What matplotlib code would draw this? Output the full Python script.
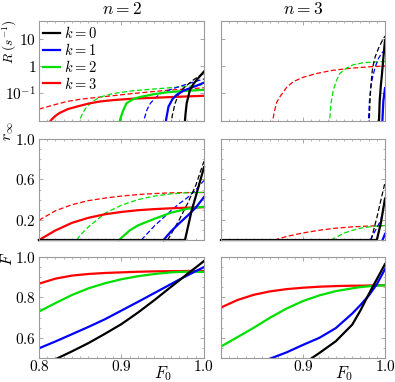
import numpy as np
import matplotlib
matplotlib.use("Agg")
import matplotlib.pyplot as plt
from matplotlib.ticker import MultipleLocator, NullFormatter, LogLocator

plt.rcParams['mathtext.fontset'] = 'cm'
plt.rcParams['font.family'] = ['DejaVu Serif']

# ---------------- fila 1: R (s^-1), n = 2 ----------------
R2_k0_x = [0.9765, 0.9775, 0.979, 0.983, 0.987, 0.991, 0.996, 1.0]
R2_k0 = [0.006, 0.015, 0.041, 0.13, 0.21, 0.30, 0.45, 0.62]
R2_k0d_x = [0.960, 0.9615, 0.965, 0.969, 0.973, 0.98, 0.987, 0.994, 1.0]
R2_k0d = [0.006, 0.014, 0.041, 0.085, 0.13, 0.20, 0.30, 0.42, 0.53]
R2_k1_x = [0.953, 0.9545, 0.957, 0.962, 0.967, 0.975, 0.983, 0.992, 1.0]
R2_k1 = [0.006, 0.012, 0.031, 0.06, 0.085, 0.12, 0.15, 0.19, 0.24]
R2_k1d_x = [0.926, 0.928, 0.931, 0.935, 0.941, 0.947, 0.957, 0.967, 0.985, 1.0]
R2_k1d = [0.006, 0.012, 0.024, 0.041, 0.065, 0.092, 0.125, 0.16, 0.24, 0.33]
R2_k2_x = [0.897, 0.899, 0.902, 0.906, 0.914, 0.922, 0.94, 0.955, 0.98, 1.0]
R2_k2 = [0.007, 0.012, 0.022, 0.041, 0.058, 0.07, 0.09, 0.105, 0.12, 0.13]
R2_k2d_x = [0.848, 0.85, 0.853, 0.858, 0.865, 0.874, 0.89, 0.914, 0.94, 0.955, 0.98, 1.0]
R2_k2d = [0.006, 0.011, 0.018, 0.031, 0.048, 0.07, 0.095, 0.12, 0.14, 0.152, 0.175, 0.2]
R2_k3_x = [0.811, 0.815, 0.82, 0.825, 0.835, 0.846, 0.86, 0.874, 0.89, 0.914, 0.94, 0.955, 0.98, 1.0]
R2_k3 = [0.007, 0.01, 0.014, 0.018, 0.025, 0.031, 0.04, 0.048, 0.054, 0.061, 0.066, 0.069, 0.074, 0.078]
R2_k3d_x = [0.80, 0.82, 0.834, 0.85, 0.874, 0.90, 0.914, 0.94, 0.955, 0.98, 1.0]
R2_k3d = [0.025, 0.037, 0.048, 0.058, 0.07, 0.085, 0.095, 0.113, 0.125, 0.14, 0.155]

# ---------------- fila 1: R (s^-1), n = 3 ----------------
R3_k0_x = [0.9925, 0.9935, 0.995, 0.996, 0.998, 1.0]
R3_k0 = [0.006, 0.05, 0.2, 0.4, 2.0, 9.0]
R3_k0d_x = [0.9805, 0.982, 0.984, 0.985, 0.988, 0.992, 0.996, 1.0]
R3_k0d = [0.006, 0.08, 0.5, 0.9, 2.2, 4.5, 8.0, 13.0]
R3_k1_x = [0.9965, 0.998, 1.0]
R3_k1 = [0.006, 0.05, 0.15]
R3_k1d_x = [0.9795, 0.981, 0.983, 0.985, 0.988, 0.992, 0.996, 1.0]
R3_k1d = [0.006, 0.05, 0.2, 0.4, 0.9, 1.9, 3.0, 4.0]
R3_k2d_x = [0.932, 0.934, 0.937, 0.941, 0.945, 0.952, 0.961, 0.972, 0.985, 1.0]
R3_k2d = [0.006, 0.04, 0.13, 0.3, 0.53, 0.8, 1.1, 1.3, 1.4, 1.45]
R3_k3d_x = [0.862, 0.865, 0.868, 0.872, 0.88, 0.888, 0.90, 0.917, 0.935, 0.957, 0.98, 1.0]
R3_k3d = [0.006, 0.02, 0.045, 0.073, 0.16, 0.26, 0.38, 0.53, 0.68, 0.82, 0.93, 1.0]

# ---------------- fila 2: r_inf, n = 2 ----------------
r2_k0_x = [0.80, 0.977, 0.985, 0.99, 1.0]
r2_k0 = [0.0, 0.0, 0.29, 0.43, 0.72]
r2_k0d_x = [0.956, 0.97, 0.98, 0.99, 1.0]
r2_k0d = [0.0, 0.2, 0.36, 0.54, 0.78]
r2_k1_x = [0.951, 0.96, 0.97, 0.98, 0.99, 1.0]
r2_k1 = [0.0, 0.085, 0.165, 0.24, 0.32, 0.425]
r2_k1d_x = [0.924, 0.94, 0.95, 0.96, 0.97, 0.98, 0.99, 1.0]
r2_k1d = [0.0, 0.14, 0.215, 0.29, 0.36, 0.42, 0.495, 0.59]
r2_k2_x = [0.897, 0.91, 0.92, 0.94, 0.96, 0.98, 1.0]
r2_k2 = [0.0, 0.095, 0.145, 0.21, 0.27, 0.31, 0.33]
r2_k2d_x = [0.846, 0.85, 0.86, 0.88, 0.90, 0.92, 0.94, 0.96, 0.98, 1.0]
r2_k2d = [0.0, 0.05, 0.13, 0.265, 0.345, 0.40, 0.435, 0.457, 0.468, 0.472]
r2_k3_x = [0.80, 0.82, 0.84, 0.86, 0.88, 0.90, 0.92, 0.94, 0.96, 0.98, 1.0]
r2_k3 = [0.0, 0.095, 0.17, 0.22, 0.255, 0.278, 0.295, 0.306, 0.314, 0.32, 0.325]
r2_k3d_x = [0.80, 0.82, 0.84, 0.86, 0.88, 0.90, 0.92, 0.94, 0.96, 0.98, 1.0]
r2_k3d = [0.196, 0.29, 0.35, 0.39, 0.415, 0.435, 0.45, 0.46, 0.467, 0.47, 0.47]

# ---------------- fila 2: r_inf, n = 3 ----------------
r3_k0_x = [0.80, 0.990, 0.995, 1.0]
r3_k0 = [0.0, 0.0, 0.17, 0.41]
r3_k0d_x = [0.983, 0.99, 1.0]
r3_k0d = [0.0, 0.22, 0.57]
r3_k1_x = [0.997, 1.0]
r3_k1 = [0.0, 0.06]
r3_k1d_x = [0.982, 0.99, 0.995, 1.0]
r3_k1d = [0.0, 0.12, 0.2, 0.4]
r3_k2d_x = [0.934, 0.95, 0.96, 0.97, 0.98, 0.99, 1.0]
r3_k2d = [0.0, 0.068, 0.095, 0.117, 0.13, 0.138, 0.143]
r3_k3d_x = [0.865, 0.88, 0.90, 0.92, 0.94, 0.96, 0.98, 1.0]
r3_k3d = [0.0, 0.035, 0.07, 0.097, 0.117, 0.13, 0.138, 0.143]

# ---------------- fila 3: F ----------------
F0 = [0.80, 0.82, 0.84, 0.86, 0.88, 0.90, 0.92, 0.94, 0.96, 0.97, 0.98, 0.99, 1.00]
F2_k0 = [0.455, 0.494, 0.533, 0.574, 0.62, 0.668, 0.725, 0.787, 0.852, 0.884, 0.917, 0.948, 0.98]
F2_k1 = [0.548, 0.582, 0.618, 0.654, 0.692, 0.735, 0.778, 0.822, 0.866, 0.888, 0.909, 0.93, 0.95]
F2_k2 = [0.73, 0.772, 0.812, 0.845, 0.87, 0.89, 0.905, 0.916, 0.924, 0.926, 0.927, 0.927, 0.926]
F2_k3 = [0.868, 0.893, 0.908, 0.916, 0.921, 0.924, 0.927, 0.929, 0.930, 0.930, 0.931, 0.931, 0.931]
F3_k0 = [0.30, 0.33, 0.355, 0.38, 0.42, 0.47, 0.525, 0.583, 0.665, 0.735, 0.815, 0.89, 0.965]
F3_k1 = [0.42, 0.445, 0.47, 0.497, 0.528, 0.565, 0.60, 0.648, 0.72, 0.762, 0.808, 0.865, 0.94]
F3_k2 = [0.557, 0.603, 0.65, 0.70, 0.745, 0.782, 0.81, 0.831, 0.845, 0.851, 0.855, 0.858, 0.86]
F3_k3 = [0.75, 0.787, 0.813, 0.830, 0.841, 0.848, 0.853, 0.856, 0.858, 0.858, 0.859, 0.86, 0.86]

colores = ['#ff0000', '#00e000', '#0000ff', '#000000']   # k = 3, 2, 1, 0
etiquetas = ['$k=3$', '$k=2$', '$k=1$', '$k=0$']
gris = '#9a9a9a'
lw_s = 1.6
lw_d = 0.9
guion = (0, (4, 2))

fig = plt.figure(figsize=(3.95, 3.82), dpi=100)
izq = [0.0987, 0.5595]
anchos = [0.4177, 0.4152]
abajo = [0.6832, 0.3717, 0.0628]
altos = [0.2618, 0.2644, 0.2644]
ax = [[fig.add_axes([izq[c], abajo[f], anchos[c], altos[f]]) for c in range(2)] for f in range(3)]

# fila 1
a = ax[0][0]
for xs, ys, c in [(R2_k3d_x, R2_k3d, 0), (R2_k2d_x, R2_k2d, 1), (R2_k1d_x, R2_k1d, 2), (R2_k0d_x, R2_k0d, 3)]:
    a.plot(xs, ys, color=colores[c], lw=lw_d, ls=guion)
for xs, ys, c in [(R2_k3_x, R2_k3, 0), (R2_k2_x, R2_k2, 1), (R2_k1_x, R2_k1, 2), (R2_k0_x, R2_k0, 3)]:
    a.plot(xs, ys, color=colores[c], lw=lw_s, label=etiquetas[c])
a = ax[0][1]
for xs, ys, c in [(R3_k3d_x, R3_k3d, 0), (R3_k2d_x, R3_k2d, 1), (R3_k1d_x, R3_k1d, 2), (R3_k0d_x, R3_k0d, 3)]:
    a.plot(xs, ys, color=colores[c], lw=lw_d, ls=guion)
for xs, ys, c in [(R3_k1_x, R3_k1, 2), (R3_k0_x, R3_k0, 3)]:
    a.plot(xs, ys, color=colores[c], lw=lw_s)

# fila 2
a = ax[1][0]
for xs, ys, c in [(r2_k3d_x, r2_k3d, 0), (r2_k2d_x, r2_k2d, 1), (r2_k1d_x, r2_k1d, 2), (r2_k0d_x, r2_k0d, 3)]:
    a.plot(xs, ys, color=colores[c], lw=lw_d, ls=guion, clip_on=False)
for xs, ys, c in [(r2_k3_x, r2_k3, 0), (r2_k2_x, r2_k2, 1), (r2_k1_x, r2_k1, 2), (r2_k0_x, r2_k0, 3)]:
    a.plot(xs, ys, color=colores[c], lw=lw_s, clip_on=False)
a = ax[1][1]
for xs, ys, c in [(r3_k3d_x, r3_k3d, 0), (r3_k2d_x, r3_k2d, 1), (r3_k1d_x, r3_k1d, 2), (r3_k0d_x, r3_k0d, 3)]:
    a.plot(xs, ys, color=colores[c], lw=lw_d, ls=guion, clip_on=False)
for xs, ys, c in [(r3_k0_x, r3_k0, 3), (r3_k1_x, r3_k1, 2)]:
    a.plot(xs, ys, color=colores[c], lw=lw_s, clip_on=False)

# fila 3
for a, curvas in [(ax[2][0], [F2_k3, F2_k2, F2_k1, F2_k0]), (ax[2][1], [F3_k3, F3_k2, F3_k1, F3_k0])]:
    for c, ys in enumerate(curvas):
        a.plot(F0, ys, color=colores[c], lw=lw_s)

# ejes
for f in range(3):
    for c in range(2):
        a = ax[f][c]
        a.set_xlim(0.8, 1.0)
        a.xaxis.set_minor_locator(MultipleLocator(0.01))
        a.set_xticks([0.8, 0.9, 1.0])
        if f == 2:
            if c == 0:
                a.set_xticklabels(['$0.8$', '$0.9$', '$1.0$'])
            else:
                a.set_xticklabels(['', '$0.9$', '$1.0$'])
        else:
            a.set_xticklabels([])
        if f == 0:
            a.set_yscale('log')
            a.set_ylim(0.009, 47)
            a.set_yticks([0.1, 1, 10])
            a.yaxis.set_minor_locator(LogLocator(base=10, subs=np.arange(2, 10)))
            a.yaxis.set_minor_formatter(NullFormatter())
            lab = ['$10^{-1}$', '$1$', '$10$']
        elif f == 1:
            a.set_ylim(0, 1.0)
            a.set_yticks([0.2, 0.6, 1.0])
            a.yaxis.set_minor_locator(MultipleLocator(0.1))
            lab = ['$0.2$', '$0.6$', '$1.0$']
        else:
            a.set_ylim(0.5, 1.0)
            a.set_yticks([0.6, 0.8, 1.0])
            a.yaxis.set_minor_locator(MultipleLocator(0.05))
            lab = ['$0.6$', '$0.8$', '$1.0$']
        a.set_yticklabels(lab if c == 0 else [])
        a.tick_params(which='both', direction='in', top=True, right=True, color=gris,
                      labelsize=11, pad=2)
        a.tick_params(axis='x', pad=1)
        a.tick_params(which='major', length=3, width=0.6)
        a.tick_params(which='minor', length=1.5, width=0.5)
        for s in a.spines.values():
            s.set_color(gris)
            s.set_linewidth(0.8)

ax[0][0].set_title('$n=2$', fontsize=12.5, pad=5)
ax[0][1].set_title('$n=3$', fontsize=12.5, pad=5)

# etiquetas del eje y, arriba a la izquierda de cada fila
fig.text(10 / 395, 1 - 19 / 382, r'$R\ (s^{-1})$', rotation=90, ha='center', va='top', fontsize=9.5)
fig.text(8 / 395, 1 - 121 / 382, r'$r_\infty$', rotation=90, ha='center', va='top', fontsize=11.5)
fig.text(8 / 395, 1 - 252 / 382, r'$F$', rotation=90, ha='center', va='top', fontsize=11.5)

for a in ax[2]:
    a.set_xlabel('$F_0$', fontsize=12)
    a.xaxis.set_label_coords(0.75, -0.06)

h, l = ax[0][0].get_legend_handles_labels()
ax[0][0].legend(h[::-1], l[::-1], loc='upper left', frameon=False, fontsize=10.5,
                handlelength=1.15, handletextpad=0.25, labelspacing=0.05,
                borderaxespad=0.2, borderpad=0.1)

plt.savefig('out.png', dpi=100)
